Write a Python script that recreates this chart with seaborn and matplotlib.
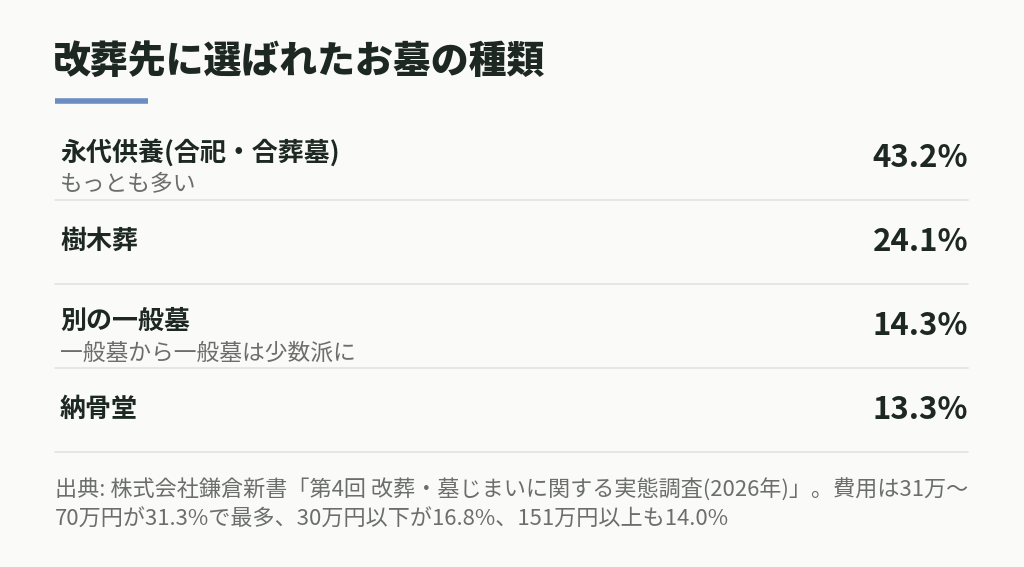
import matplotlib
matplotlib.use("Agg")
import matplotlib.pyplot as plt
import seaborn as sns

# data
categories = ["永代供養(合祀・合葬墓)", "樹木葬", "別の一般墓", "納骨堂"]
notes = ["もっとも多い", "", "一般墓から一般墓は少数派に", ""]
shares = [43.2, 24.1, 14.3, 13.3]

title = "改葬先に選ばれたお墓の種類"
source_lines = [
    "出典: 株式会社鎌倉新書「第4回 改葬・墓じまいに関する実態調査(2026年)」。費用は31万～",
    "70万円が31.3%で最多、30万円以下が16.8%、151万円以上も14.0%",
]

sns.set_theme(style="white")
plt.rcParams["font.family"] = ["Noto Sans CJK JP", "DejaVu Sans"]

bg = "#fafaf8"
dark = "#1e2822"
grey = "#6b6e6c"
accent = "#6c8cc2"
rule = "#e3e3e0"

fig = plt.figure(figsize=(10.24, 5.67), dpi=100, facecolor=bg)
ax = fig.add_axes([0, 0, 1, 1])
ax.set_facecolor(bg)
ax.set_xlim(0, 1024)
ax.set_ylim(567, 0)
ax.axis("off")

left, right = 55, 968
ax.text(left - 2, 62, title, fontsize=27.3, fontweight="heavy", color=dark,
        va="center", ha="left")
ax.plot([left, 148], [101, 101], color=accent, lw=4, solid_capstyle="butt")

top, row_h = 116, 84
for i, (cat, note, val) in enumerate(zip(categories, notes, shares)):
    mid = top + row_h * i + row_h / 2
    if note:
        ax.text(left + 5, mid - 5, cat, fontsize=18.7, fontweight="bold",
                color=dark, va="center", ha="left")
        ax.text(left + 5, mid + 27, note, fontsize=16.4, color=grey,
                va="center", ha="left")
    else:
        ax.text(left + 5, mid - 1, cat, fontsize=18.7, fontweight="bold",
                color=dark, va="center", ha="left")
    ax.text(right, mid, f"{val:.1f}%", fontsize=22.5, fontweight="bold",
            color=dark, va="center", ha="right")
    ax.plot([left, right], [top + row_h * (i + 1)] * 2, color=rule, lw=1.2)

for j, line in enumerate(source_lines):
    ax.text(left, 490 + 30 * j, line, fontsize=15.9, color=grey,
            va="center", ha="left")

fig.savefig("out.png", dpi=100, facecolor=bg)
